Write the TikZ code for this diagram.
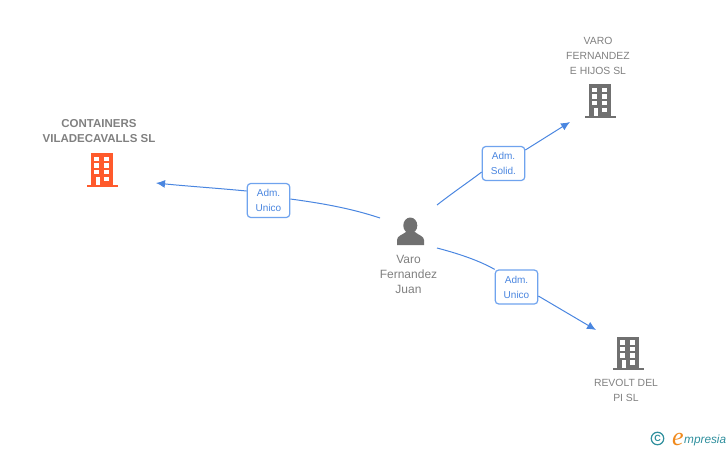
\documentclass[tikz,border=0pt]{standalone}
\usepackage{fontspec}
\setmainfont{Liberation Sans}
\newfontfamily\serifit{Liberation Serif}
\usetikzlibrary{arrows.meta}
\definecolor{txtgray}{HTML}{808080}
\definecolor{iconorange}{HTML}{FF5A2C}
\definecolor{icongray}{HTML}{707070}
\definecolor{linkblue}{HTML}{4A86E0}
\definecolor{boxblue}{HTML}{6FA3EE}
\definecolor{logoteal}{HTML}{2F8F9D}
\definecolor{logoorange}{HTML}{F08A1D}
\tikzset{
  x=1pt,y=-1pt,
  namelabel/.style={text=txtgray,font=\fontsize{10.4}{15}\selectfont,align=center,inner sep=0pt},
  rolebox/.style={draw=boxblue,line width=1.2pt,rounded corners=3.5pt,fill=white,text=linkblue,
    font=\fontsize{10}{15}\selectfont,align=center,inner sep=0pt,minimum width=42.5pt,minimum height=34pt},
  linkline/.style={draw=linkblue,line width=1pt},
  linkarrow/.style={linkline,-{Latex[length=9pt,width=8pt]}},
  pics/tower/.style={code={
    \fill[#1] (-11,-16.5) rectangle (11,15.5);
    \fill[#1] (-15.5,15) rectangle (15.5,17);
    \fill[white] (-7.7,-13) rectangle (-2.7,-8.5);
    \fill[white] (2.3,-13) rectangle (7.3,-8.5);
    \fill[white] (-7.7,-6.5) rectangle (-2.7,-2);
    \fill[white] (2.3,-6.5) rectangle (7.3,-2);
    \fill[white] (-7.7,0) rectangle (-2.7,4.5);
    \fill[white] (2.3,0) rectangle (7.3,4.5);
    \fill[white] (-6.5,7) rectangle (-2,15);
    \fill[white] (2.3,7) rectangle (7.3,11.5);
  }},
}
\begin{document}
\begin{tikzpicture}
\useasboundingbox (0,0) rectangle (728,450);
% buildings
\pic at (102,169.5) {tower=iconorange};
\pic at (600,100.5) {tower=icongray};
\pic at (628,353) {tower=icongray};
% person
\fill[icongray] (410.3,225.5) ellipse (7 and 8);
\fill[icongray] (397,245) -- (397,240) .. controls (397,236) and (402,235) .. (406,232)
  -- (415,232) .. controls (418,235) and (424,236) .. (424,240) -- (424,245) -- cycle;
% labels
\node[namelabel,font=\bfseries\fontsize{11.5}{15}\selectfont] (containers) at (99,131.5) {CONTAINERS\\VILADECAVALLS SL};
\node[namelabel] (varohijos) at (598,55.5) {VARO\\FERNANDEZ\\E HIJOS SL};
\node[namelabel] (revolt) at (626,390) {REVOLT DEL\\PI SL};
\node[namelabel,font=\fontsize{12}{15}\selectfont] (juan) at (408.5,274) {Varo\\Fernandez\\Juan};
% role boxes
\node[rolebox] (r1) at (268.5,200.5) {Adm.\\Unico};
\node[rolebox] (r2) at (503.5,163.5) {Adm.\\Solid.};
\node[rolebox] (r3) at (516.5,287) {Adm.\\Unico};
% connector ends
\coordinate (a1) at (380,218);
\coordinate (e1) at (156,183);
\coordinate (a2) at (437,205);
\coordinate (e2) at (570,122);
\coordinate (a3) at (437,248);
\coordinate (e3) at (596,330);
% connectors
\draw[linkline] (a1) .. controls (350,208) and (320,203) .. (r1.east |- 0,199);
\draw[linkarrow] (r1.west |- 0,191) .. controls (215,188) and (185,186) .. (e1);
\draw[linkline] (a2) .. controls (455,191) and (470,181) .. (r2.south west |- 0,172);
\draw[linkarrow] (r2.east |- 0,150) -- (e2);
\draw[linkline] (a3) .. controls (460,254) and (480,261) .. (r3.north west);
\draw[linkarrow] (r3.east |- 0,296) -- (e3);
% logo
\node[circle,draw=logoteal,line width=1.2pt,text=logoteal,inner sep=0pt,minimum size=12.5pt,font=\fontsize{9}{9}\selectfont\bfseries] (copy) at (657.5,438.5) {C};
\node[anchor=base west,inner sep=0pt,text=logoorange,font=\serifit\itshape\fontsize{26}{26}\selectfont] (logoe) at (672,445) {e};
\node[anchor=base west,inner sep=0pt,text=logoteal,font=\itshape\fontsize{11.8}{12}\selectfont] (logotxt) at (684,443) {mpresia};
\end{tikzpicture}
\end{document}
